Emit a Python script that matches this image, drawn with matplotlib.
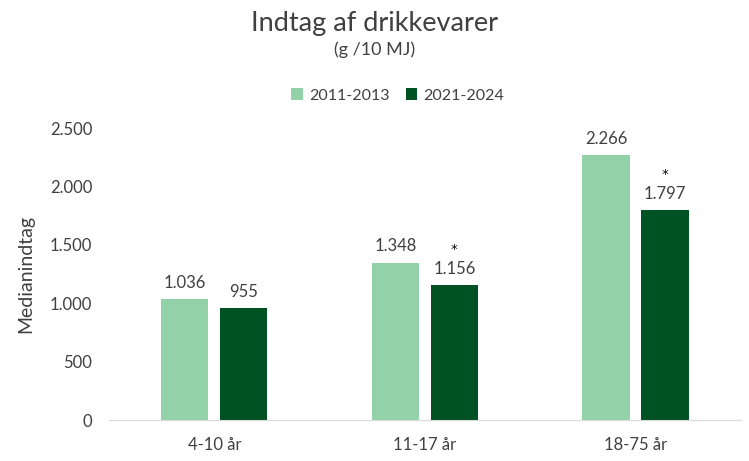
import matplotlib.pyplot as plt
import numpy as np

# Data
groups = ["4-10 år", "11-17 år", "18-75 år"]
series_names = ["2011-2013", "2021-2024"]
values_2011 = [1036, 1348, 2266]
values_2021 = [955, 1156, 1797]
significant_2021 = [False, True, True]

light_green = "#93D1A9"
dark_green = "#005222"
text_color = "#404040"

plt.rcParams['font.family'] = ['Lato', 'DejaVu Sans']


def fmt(v):
    # Danish thousands separator
    return f"{v:,}".replace(",", ".")


fig = plt.figure(figsize=(7.49, 4.61), dpi=100)
ax = fig.add_axes([0.1455, 0.0889, 0.8435, 0.6334])

x = np.arange(len(groups))
width = 0.224
offset = 0.14

bars1 = ax.bar(x - offset, values_2011, width, color=light_green, label=series_names[0])
bars2 = ax.bar(x + offset, values_2021, width, color=dark_green, label=series_names[1])

for b, v in zip(bars1, values_2011):
    ax.annotate(fmt(v), (b.get_x() + b.get_width() / 2, v), xytext=(0, 6),
                textcoords="offset points", ha="center", va="bottom",
                fontsize=12, color=text_color)

for b, v, sig in zip(bars2, values_2021, significant_2021):
    ax.annotate(fmt(v), (b.get_x() + b.get_width() / 2, v), xytext=(0, 6),
                textcoords="offset points", ha="center", va="bottom",
                fontsize=12, color=text_color)
    if sig:
        ax.annotate("*", (b.get_x() + b.get_width() / 2, v), xytext=(0, 21),
                    textcoords="offset points", ha="center", va="bottom",
                    fontsize=9.5, color="black", family="DejaVu Sans")

ax.set_xlim(-0.5, 2.5)
ax.set_ylim(0, 2500)
ax.set_yticks(np.arange(0, 2501, 500))
ax.set_yticklabels([fmt(t) for t in range(0, 2501, 500)])
ax.set_xticks(x)
ax.set_xticklabels(groups)

for s in ["top", "right", "left"]:
    ax.spines[s].set_visible(False)
ax.spines["bottom"].set_color("#D9D9D9")
ax.tick_params(axis="both", length=0, labelsize=12, labelcolor=text_color)
ax.tick_params(axis="x", pad=12)
ax.tick_params(axis="y", pad=12)

ax.set_ylabel("Medianindtag", fontsize=14, color=text_color)
ax.yaxis.set_label_coords(-0.118, 0.5)

fig.text(0.5, 0.95, "Indtag af drikkevarer", ha="center", va="center",
         fontsize=19.5, color=text_color)
fig.text(0.5, 0.893, "(g /10 MJ)", ha="center", va="center",
         fontsize=13, color=text_color)

fig.legend(loc="center", bbox_to_anchor=(0.531, 0.793), ncol=2, frameon=False,
           fontsize=11.5, handlelength=0.7, handleheight=0.7, handletextpad=0.4,
           columnspacing=1.0, labelcolor=text_color)

fig.savefig("out.png", dpi=100)
